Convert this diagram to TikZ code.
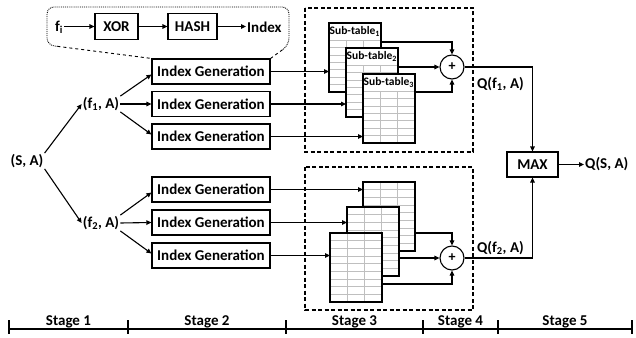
\documentclass[tikz,border=0pt]{standalone}
\usepackage{fontspec}
\setmainfont{Carlito}
\usetikzlibrary{arrows.meta,calc}
\newcommand\toptab[4]{%
  \node[tbl, anchor=north west] (#1) at (#2,#3) {};
  \foreach \k in {0,...,6} \draw[gridl] ({#2},{#3+17+\k*7.43}) -- ({#2+52},{#3+17+\k*7.43});
  \foreach \c in {1,2} \draw[gridl] ({#2+\c*17.33},{#3+17}) -- ({#2+\c*17.33},{#3+69});
  \node[sublabel, anchor=west] (#1lab) at ({#2},{#3+8.5}) {Sub-table\textsubscript{#4}};
  \draw[tblborder] (#1.north west) rectangle (#1.south east);
}
\newcommand\bottab[3]{%
  \node[tbl, anchor=north west] (#1) at (#2,#3) {};
  \foreach \k in {1,...,8} \draw[gridl] ({#2},{#3+\k*7.67}) -- ({#2+52},{#3+\k*7.67});
  \foreach \c in {1,2} \draw[gridl] ({#2+\c*17.33},{#3}) -- ({#2+\c*17.33},{#3+69});
  \draw[tblborder] (#1.north west) rectangle (#1.south east);
}
\begin{document}
\begin{tikzpicture}[x=1pt,y=-1pt,
  every node/.style={font=\bfseries\fontsize{15}{18}\selectfont},
  gbox/.style={draw, line width=1.1pt, minimum height=25pt, inner sep=0pt},
  igbox/.style={gbox, minimum width=118pt},
  arr/.style={line width=1.1pt, -{Triangle[length=5pt,width=4.5pt]}},
  ln/.style={line width=1.1pt},
  txt/.style={inner sep=1pt},
  tbl/.style={minimum width=52pt, minimum height=69pt, fill=white, inner sep=0pt, outer sep=0pt},
  gridl/.style={draw=black!25, line width=0.7pt},
  tblborder/.style={line width=1.4pt},
  sublabel/.style={font=\bfseries\fontsize{11.5}{13}\selectfont, inner sep=0.5pt},
  dashbox/.style={dash pattern=on 4pt off 2.5pt, line width=1.1pt},
  plusc/.style={circle, draw, line width=1.1pt, minimum size=24pt, inner sep=0pt, font=\bfseries\fontsize{14}{16}\selectfont},
]
\useasboundingbox (0,0) rectangle (636,337);

% stage 3 dashed boxes
\draw[dashbox] (305,8) rectangle (473,152);
\draw[dashbox] (305,167) rectangle (473,310);

% index generation boxes
\node[igbox] (ig1) at (211,71.5) {Index Generation};
\node[igbox] (ig2) at (211,104) {Index Generation};
\node[igbox] (ig3) at (211,136.5) {Index Generation};
\node[igbox] (ig4) at (211,189.5) {Index Generation};
\node[igbox] (ig5) at (211,222.5) {Index Generation};
\node[igbox] (ig6) at (211,255.5) {Index Generation};

% callout
\node[txt] (fi) at (59,27) {f\textsubscript{i}};
\node[gbox, minimum width=43pt, minimum height=26pt] (xor) at (116.5,26.5) {XOR};
\node[gbox, minimum width=49pt, minimum height=26pt] (hash) at (192.5,26.5) {HASH};
\node[txt, anchor=west] (idx) at (246,27) {Index};
\draw[arr] (fi.east |- xor.west) -- (xor.west);
\draw[arr] (xor) -- (hash);
\draw[arr] (hash.east) -- (hash.east -| idx.west);
\coordinate (cl) at (47,45);
\coordinate (cr) at (289,45);
\draw[densely dotted, line width=0.9pt, rounded corners=7pt]
  ($(cl)!0.1!(ig1.north west)$) -- (cl) -- (47,7) -- (289,7) -- (cr) -- ($(cr)!0.35!(ig1.north east)$);
\draw[dashed, line width=0.9pt] ($(cl)!0.1!(ig1.north west)$) -- (ig1.north west);
\draw[dashed, line width=0.9pt] ($(cr)!0.35!(ig1.north east)$) -- (ig1.north east);

% inputs
\node[txt] (sa) at (27,161) {(S, A)};
\node[txt] (f1) at (101,104) {(f\textsubscript{1}, A)};
\node[txt] (f2) at (101,223) {(f\textsubscript{2}, A)};
\draw[arr] (sa.north east) -- (f1.west);
\draw[arr] (sa.south east) -- (f2.west);
\draw[arr] (f1.north east) -- ([yshift=-3pt]ig1.west);
\draw[arr] (f1.east) -- (ig2.west);
\draw[arr] (f1.south east) -- ([yshift=2pt]ig3.west);
\draw[arr] (f2.north east) -- ([yshift=-3pt]ig4.west);
\draw[arr] (f2.east) -- (ig5.west);
\draw[arr] (f2.south east) -- ([yshift=2pt]ig6.west);

% top sub-tables
\toptab{st1}{329}{23}{1}
\toptab{st2}{346}{48}{2}
\toptab{st3}{363}{74}{3}
% bottom sub-tables
\bottab{bt1}{363}{182}
\bottab{bt2}{347}{207}
\bottab{bt3}{330}{233}

\draw[arr] (ig1.east) -- (ig1.east -| st1.west);
\draw[arr] (ig2.east) -- (ig2.east -| st2.west);
\draw[arr] (ig3.east) -- (ig3.east -| st3.west);
\draw[arr] (ig4.east) -- (ig4.east -| bt1.west);
\draw[arr] (ig5.east) -- (ig5.east -| bt2.west);
\draw[arr] (ig6.east) -- (ig6.east -| bt3.west);

% adders
\node[plusc] (p1) at (452,67) {+};
\node[plusc] (p2) at (452,258) {+};
\draw[arr] ($(st1.north east)+(0,19)$) -| (p1.north);
\draw[arr] (st2.east |- p1.west) -- (p1.west);
\draw[arr] ($(st3.north east)+(0,18)$) -| (p1.south);
\draw[arr] ($(bt1.north east)+(0,51)$) -| (p2.north);
\draw[arr] (bt2.east |- p2.west) -- (p2.west);
\draw[arr] ($(bt3.north east)+(0,51)$) -| (p2.south);

% max
\node[gbox, minimum width=51pt] (max) at (532.5,164.5) {MAX};
\draw[arr] (p1.east) -| (max.north);
\draw[arr] (p2.east) -| (max.south);
\node[txt, anchor=west] (q1) at (476,84) {Q(f\textsubscript{1}, A)};
\node[txt, anchor=west] (q2) at (476,248) {Q(f\textsubscript{2}, A)};
\node[txt, anchor=west] (qsa) at (584,164.5) {Q(S, A)};
\draw[arr] (max.east) -- (max.east -| qsa.west);

% stage bar
\draw[ln] (9,329) -- (632,329);
\foreach \t in {9,128,286,423,498,632} \draw[ln] (\t,320) -- (\t,334);
\node[anchor=base] (s1) at (68.5,325) {Stage 1};
\node[anchor=base] (s2) at (207,325) {Stage 2};
\node[anchor=base] (s3) at (354.5,325) {Stage 3};
\node[anchor=base] (s4) at (460.5,325) {Stage 4};
\node[anchor=base] (s5) at (565,325) {Stage 5};
\end{tikzpicture}
\end{document}
